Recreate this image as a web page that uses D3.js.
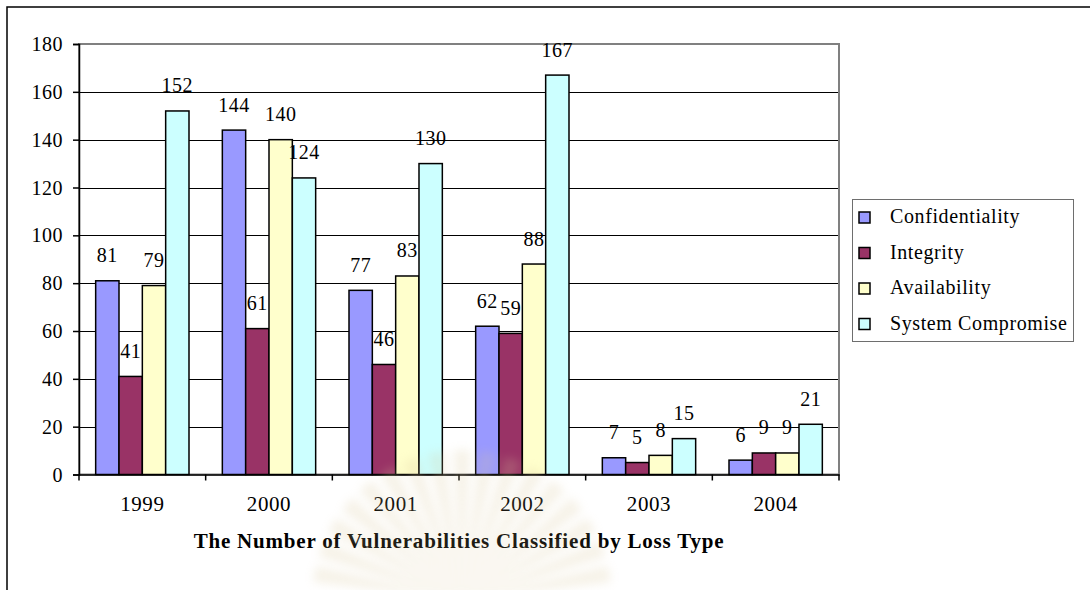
<!DOCTYPE html>
<html>
<head>
<meta charset="utf-8">
<script src="https://cdn.jsdelivr.net/npm/d3@7"></script>
<style>
  html, body { margin: 0; padding: 0; background: #fff; }
  svg { display: block; }
  svg text { font-family: "Liberation Serif", "Times New Roman", serif !important; }
</style>
</head>
<body>
<svg id="chart" width="1090" height="590"></svg>
<script>
// Vulnerabilities by loss type, per year
const years = ["1999", "2000", "2001", "2002", "2003", "2004"];
const seriesNames = ["Confidentiality", "Integrity", "Availability", "System Compromise"];
const confidentiality = [81, 144, 77, 62, 7, 6];
const integrity = [41, 61, 46, 59, 5, 9];
const availability = [79, 140, 83, 88, 8, 9];
const systemCompromise = [152, 124, 130, 167, 15, 21];
const yTicks = [0, 20, 40, 60, 80, 100, 120, 140, 160, 180];
const colors = ["#9999FF", "#993366", "#FFFFCC", "#CCFFFF"];
const title = "The Number of Vulnerabilities Classified by Loss Type";

const seriesValues = [confidentiality, integrity, availability, systemCompromise];
const FONT = "Liberation Serif";

const svg = d3.select("#chart");
const plot = { left: 79, right: 839, top: 44, bottom: 474.5 };

// outer chart frame (runs off the right and bottom edges)
svg.append("rect")
  .attr("x", 7).attr("y", 7)
  .attr("width", 1200).attr("height", 700)
  .attr("fill", "#fff").attr("stroke", "#000").attr("stroke-width", 1.5);

const x0 = d3.scaleBand().domain(years).range([plot.left, plot.right]).paddingInner(0).paddingOuter(0);
const step = x0.bandwidth();
const x1 = d3.scaleBand().domain(seriesNames)
  .range([step * 0.1316, step * (1 - 0.1316)]).padding(0);
const y = d3.scaleLinear().domain([0, 180]).range([plot.bottom, plot.top]);

// gridlines
svg.append("g").selectAll("line")
  .data(yTicks.filter(t => t > 0 && t < 180))
  .join("line")
  .attr("x1", plot.left).attr("x2", plot.right)
  .attr("y1", d => Math.round(y(d)) + 0.5).attr("y2", d => Math.round(y(d)) + 0.5)
  .attr("stroke", "#000").attr("stroke-width", 1);

// plot area border
svg.append("rect")
  .attr("x", plot.left).attr("y", plot.top)
  .attr("width", plot.right - plot.left).attr("height", plot.bottom - plot.top)
  .attr("fill", "none").attr("stroke", "#808080").attr("stroke-width", 2);

// bars
const groups = svg.append("g").selectAll("g")
  .data(years)
  .join("g")
  .attr("transform", d => `translate(${x0(d)},0)`);

groups.each(function (yr, i) {
  const g = d3.select(this);
  seriesNames.forEach((name, s) => {
    const v = seriesValues[s][i];
    g.append("rect")
      .attr("x", x1(name))
      .attr("y", y(v))
      .attr("width", x1.bandwidth())
      .attr("height", y(0) - y(v))
      .attr("fill", colors[s])
      .attr("stroke", "#000")
      .attr("stroke-width", 1.5);
  });
});

// value labels
groups.each(function (yr, i) {
  const g = d3.select(this);
  seriesNames.forEach((name, s) => {
    const v = seriesValues[s][i];
    g.append("text")
      .attr("x", x1(name) + x1.bandwidth() / 2)
      .attr("y", y(v) - 18.5)
      .attr("text-anchor", "middle")
      .attr("font-family", FONT)
      .style("font-size", "20px")
      .style("letter-spacing", "0.5px")
      .attr("fill", "#000")
      .text(v);
  });
});

// y axis
const yAxis = svg.append("g")
  .attr("transform", `translate(${plot.left},0)`)
  .call(d3.axisLeft(y).tickValues(yTicks).tickSize(6).tickPadding(10).tickFormat(d3.format("d")))
  .attr("font-family", FONT);
yAxis.select(".domain").attr("stroke", "#000").attr("stroke-width", 1.5);
yAxis.selectAll(".tick line").attr("stroke", "#000").attr("stroke-width", 1.5);
yAxis.selectAll(".tick text")
  .style("font-size", "20px")
  .style("letter-spacing", "0.5px")
  .attr("dy", "0.33em").attr("fill", "#000");

// x axis with ticks between categories
const xAxis = svg.append("g")
  .attr("transform", `translate(0,${plot.bottom})`)
  .call(d3.axisBottom(x0).tickSize(0).tickPadding(0).tickFormat(""))
  .attr("font-family", FONT);
xAxis.select(".domain").attr("stroke", "#000").attr("stroke-width", 1.5);
xAxis.selectAll(".tick").remove();
xAxis.append("g").selectAll("line")
  .data(d3.range(years.length + 1))
  .join("line")
  .attr("x1", i => plot.left + i * step).attr("x2", i => plot.left + i * step)
  .attr("y1", 0).attr("y2", 6)
  .attr("stroke", "#000").attr("stroke-width", 1.5);
xAxis.append("g").selectAll("text")
  .data(years)
  .join("text")
  .attr("x", d => x0(d) + step / 2)
  .attr("y", 36.5)
  .attr("text-anchor", "middle")
  .style("font-size", "21px")
  .style("letter-spacing", "0.6px")
  .attr("fill", "#000")
  .text(d => d);

// axis title
svg.append("text")
  .attr("x", (plot.left + plot.right) / 2)
  .attr("y", 548)
  .attr("text-anchor", "middle")
  .attr("font-family", FONT)
  .style("font-size", "21px")
  .style("font-weight", "bold")
  .style("letter-spacing", "0.8px")
  .attr("fill", "#000")
  .text(title);

// legend
const legend = svg.append("g").attr("font-family", FONT);
legend.append("rect")
  .attr("x", 852.5).attr("y", 199.5)
  .attr("width", 221).attr("height", 142)
  .attr("fill", "#fff").attr("stroke", "#6e6e6e").attr("stroke-width", 1);
const items = legend.selectAll("g.item")
  .data(seriesNames)
  .join("g")
  .attr("class", "item")
  .attr("transform", (d, i) => `translate(0,${223 + i * 35.5})`);
items.append("rect")
  .attr("x", 859).attr("y", -11)
  .attr("width", 11).attr("height", 11)
  .attr("fill", (d, i) => colors[i])
  .attr("stroke", "#000").attr("stroke-width", 1.5);
items.append("text")
  .attr("x", 890).attr("y", 0)
  .style("font-size", "20px")
  .style("letter-spacing", "0.6px")
  .attr("fill", "#000")
  .text(d => d);

// faint page watermark: soft sunburst low in the middle
const defs = svg.append("defs");
defs.append("filter").attr("id", "soft")
  .attr("x", "-20%").attr("y", "-20%").attr("width", "140%").attr("height", "140%")
  .append("feGaussianBlur").attr("stdDeviation", 5);
const rays = svg.append("g")
  .attr("filter", "url(#soft)")
  .attr("opacity", 0.22)
  .attr("transform", "translate(462,600)");
const rayAngles = d3.range(-80, 81, 10);
rays.selectAll("path")
  .data(rayAngles)
  .join("path")
  .attr("d", a => {
    const r = 150, w = 3.2;
    const p1 = [r * Math.sin((a - w) * Math.PI / 180), -r * Math.cos((a - w) * Math.PI / 180)];
    const p2 = [r * Math.sin((a + w) * Math.PI / 180), -r * Math.cos((a + w) * Math.PI / 180)];
    return `M0,0L${p1[0]},${p1[1]}L${p2[0]},${p2[1]}Z`;
  })
  .attr("fill", "#d9c79a");
</script>
</body>
</html>
